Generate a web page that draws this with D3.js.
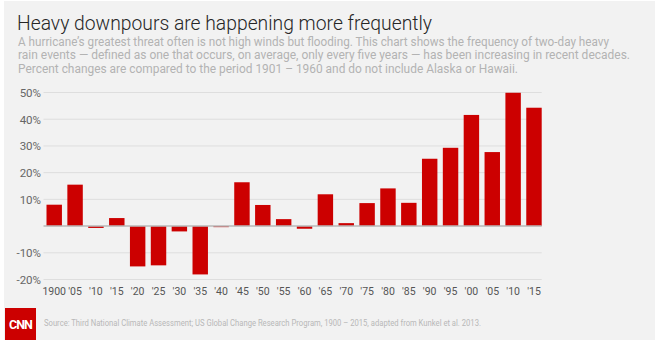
<!DOCTYPE html>
<html>
<head>
<meta charset="utf-8">
<script src="https://cdn.jsdelivr.net/npm/d3@7"></script>
<style>
  html, body { margin: 0; padding: 0; background: #ffffff; }
  svg { display: block; }
</style>
</head>
<body>
<svg id="chart" width="660" height="340"></svg>
<script>
// Five-year periods and the change in two-day heavy rain events (percent vs. 1901–1960)
const periods = ["1900", "'05", "'10", "'15", "'20", "'25", "'30", "'35", "'40", "'45", "'50", "'55",
                 "'60", "'65", "'70", "'75", "'80", "'85", "'90", "'95", "'00", "'05 ", "'10 ", "'15 "];
const changes = [8.0, 15.5, -0.7, 3.0, -15.1, -14.7, -2.0, -18.1, -0.4, 16.4, 7.9, 2.6,
                 -1.0, 11.9, 1.1, 8.6, 14.1, 8.7, 25.2, 29.3, 41.6, 27.7, 49.9, 44.3];
const yTicks = [-20, -10, 10, 20, 30, 40, 50];

const titleText = "Heavy downpours are happening more frequently";
const subtitleLines = [
  "A hurricane\u2019s greatest threat often is not high winds but flooding. This chart shows the frequency of two-day heavy",
  "rain events \u2014 defined as one that occurs, on average, only every five years \u2014 has been increasing in recent decades.",
  "Percent changes are compared to the period 1901 \u2013 1960 and do not include Alaska or Hawaii."
];
const sourceText = "Source: Third National Climate Assessment; US Global Change Research Program, 1900 \u2013 2015, adapted from Kunkel et al. 2013.";

const svg = d3.select("#chart");
const font = "Roboto, 'Helvetica Neue', Arial, sans-serif";

// card background
svg.append("rect")
  .attr("x", 4).attr("y", 1).attr("width", 651).attr("height", 339)
  .attr("fill", "#f2f2f2");

// headline and description
svg.append("text")
  .attr("x", 17).attr("y", 30)
  .attr("font-family", font).attr("font-weight", 300).attr("font-size", 21)
  .attr("fill", "#262626")
  .attr("textLength", 415).attr("lengthAdjust", "spacingAndGlyphs")
  .text(titleText);

const subWidths = [591, 612, 500];
svg.append("g").selectAll("text")
  .data(subtitleLines)
  .join("text")
  .attr("x", 18)
  .attr("y", (d, i) => 45.5 + i * 13.9)
  .attr("font-family", font).attr("font-size", 12)
  .attr("fill", "#b3b3b3")
  .attr("textLength", (d, i) => subWidths[i]).attr("lengthAdjust", "spacingAndGlyphs")
  .text(d => d);

// scales
const x = d3.scaleBand()
  .domain(periods)
  .range([46.5, 541.7])
  .paddingInner(0.26)
  .paddingOuter(0);

const y = d3.scaleLinear()
  .domain([-20, 50])
  .range([279.5, 92.5]);

// value labels on the left
const yAxis = d3.axisLeft(y)
  .tickValues(yTicks)
  .tickSize(0)
  .tickPadding(0)
  .tickFormat(d => d + "%");

const yg = svg.append("g").attr("transform", "translate(41,0)").call(yAxis);
yg.select(".domain").remove();
yg.selectAll("text")
  .attr("font-family", font).attr("font-size", 11.5)
  .attr("fill", "#666").attr("dy", "0.35em");

// gridlines
svg.append("g").selectAll("line")
  .data(yTicks)
  .join("line")
  .attr("x1", 43.5).attr("x2", 541.7)
  .attr("y1", d => y(d)).attr("y2", d => y(d))
  .attr("stroke", "#dedede").attr("stroke-width", 1);

// bars
svg.append("g").selectAll("rect")
  .data(changes)
  .join("rect")
  .attr("x", (d, i) => x(periods[i]))
  .attr("width", x.bandwidth())
  .attr("y", d => y(Math.max(0, d)))
  .attr("height", d => Math.abs(y(d) - y(0)))
  .attr("fill", "#cc0000");

// zero baseline
svg.append("line")
  .attr("x1", 43.5).attr("x2", 541.7)
  .attr("y1", y(0)).attr("y2", y(0))
  .attr("stroke", "#b8b8b8").attr("stroke-width", 1.5);

// period labels
const xAxis = d3.axisBottom(x).tickSize(0).tickPadding(0);
const xg = svg.append("g").attr("transform", "translate(0,288)").call(xAxis);
xg.select(".domain").remove();
xg.selectAll("text")
  .attr("font-family", font).attr("font-size", 10.5)
  .attr("fill", "#555").attr("dy", "0.71em");

// logo
svg.append("rect")
  .attr("x", 5).attr("y", 308).attr("width", 31).attr("height", 32)
  .attr("fill", "#cc0000");
svg.append("text")
  .attr("x", 20.5).attr("y", 328.5)
  .attr("text-anchor", "middle")
  .attr("font-family", font).attr("font-weight", 700).attr("font-size", 12.5)
  .attr("letter-spacing", -1)
  .attr("fill", "#ffffff")
  .text("CNN");

// source line
svg.append("text")
  .attr("x", 44).attr("y", 326)
  .attr("font-family", font).attr("font-size", 8.5)
  .attr("fill", "#b8b8b8")
  .attr("textLength", 437).attr("lengthAdjust", "spacingAndGlyphs")
  .text(sourceText);
</script>
</body>
</html>
